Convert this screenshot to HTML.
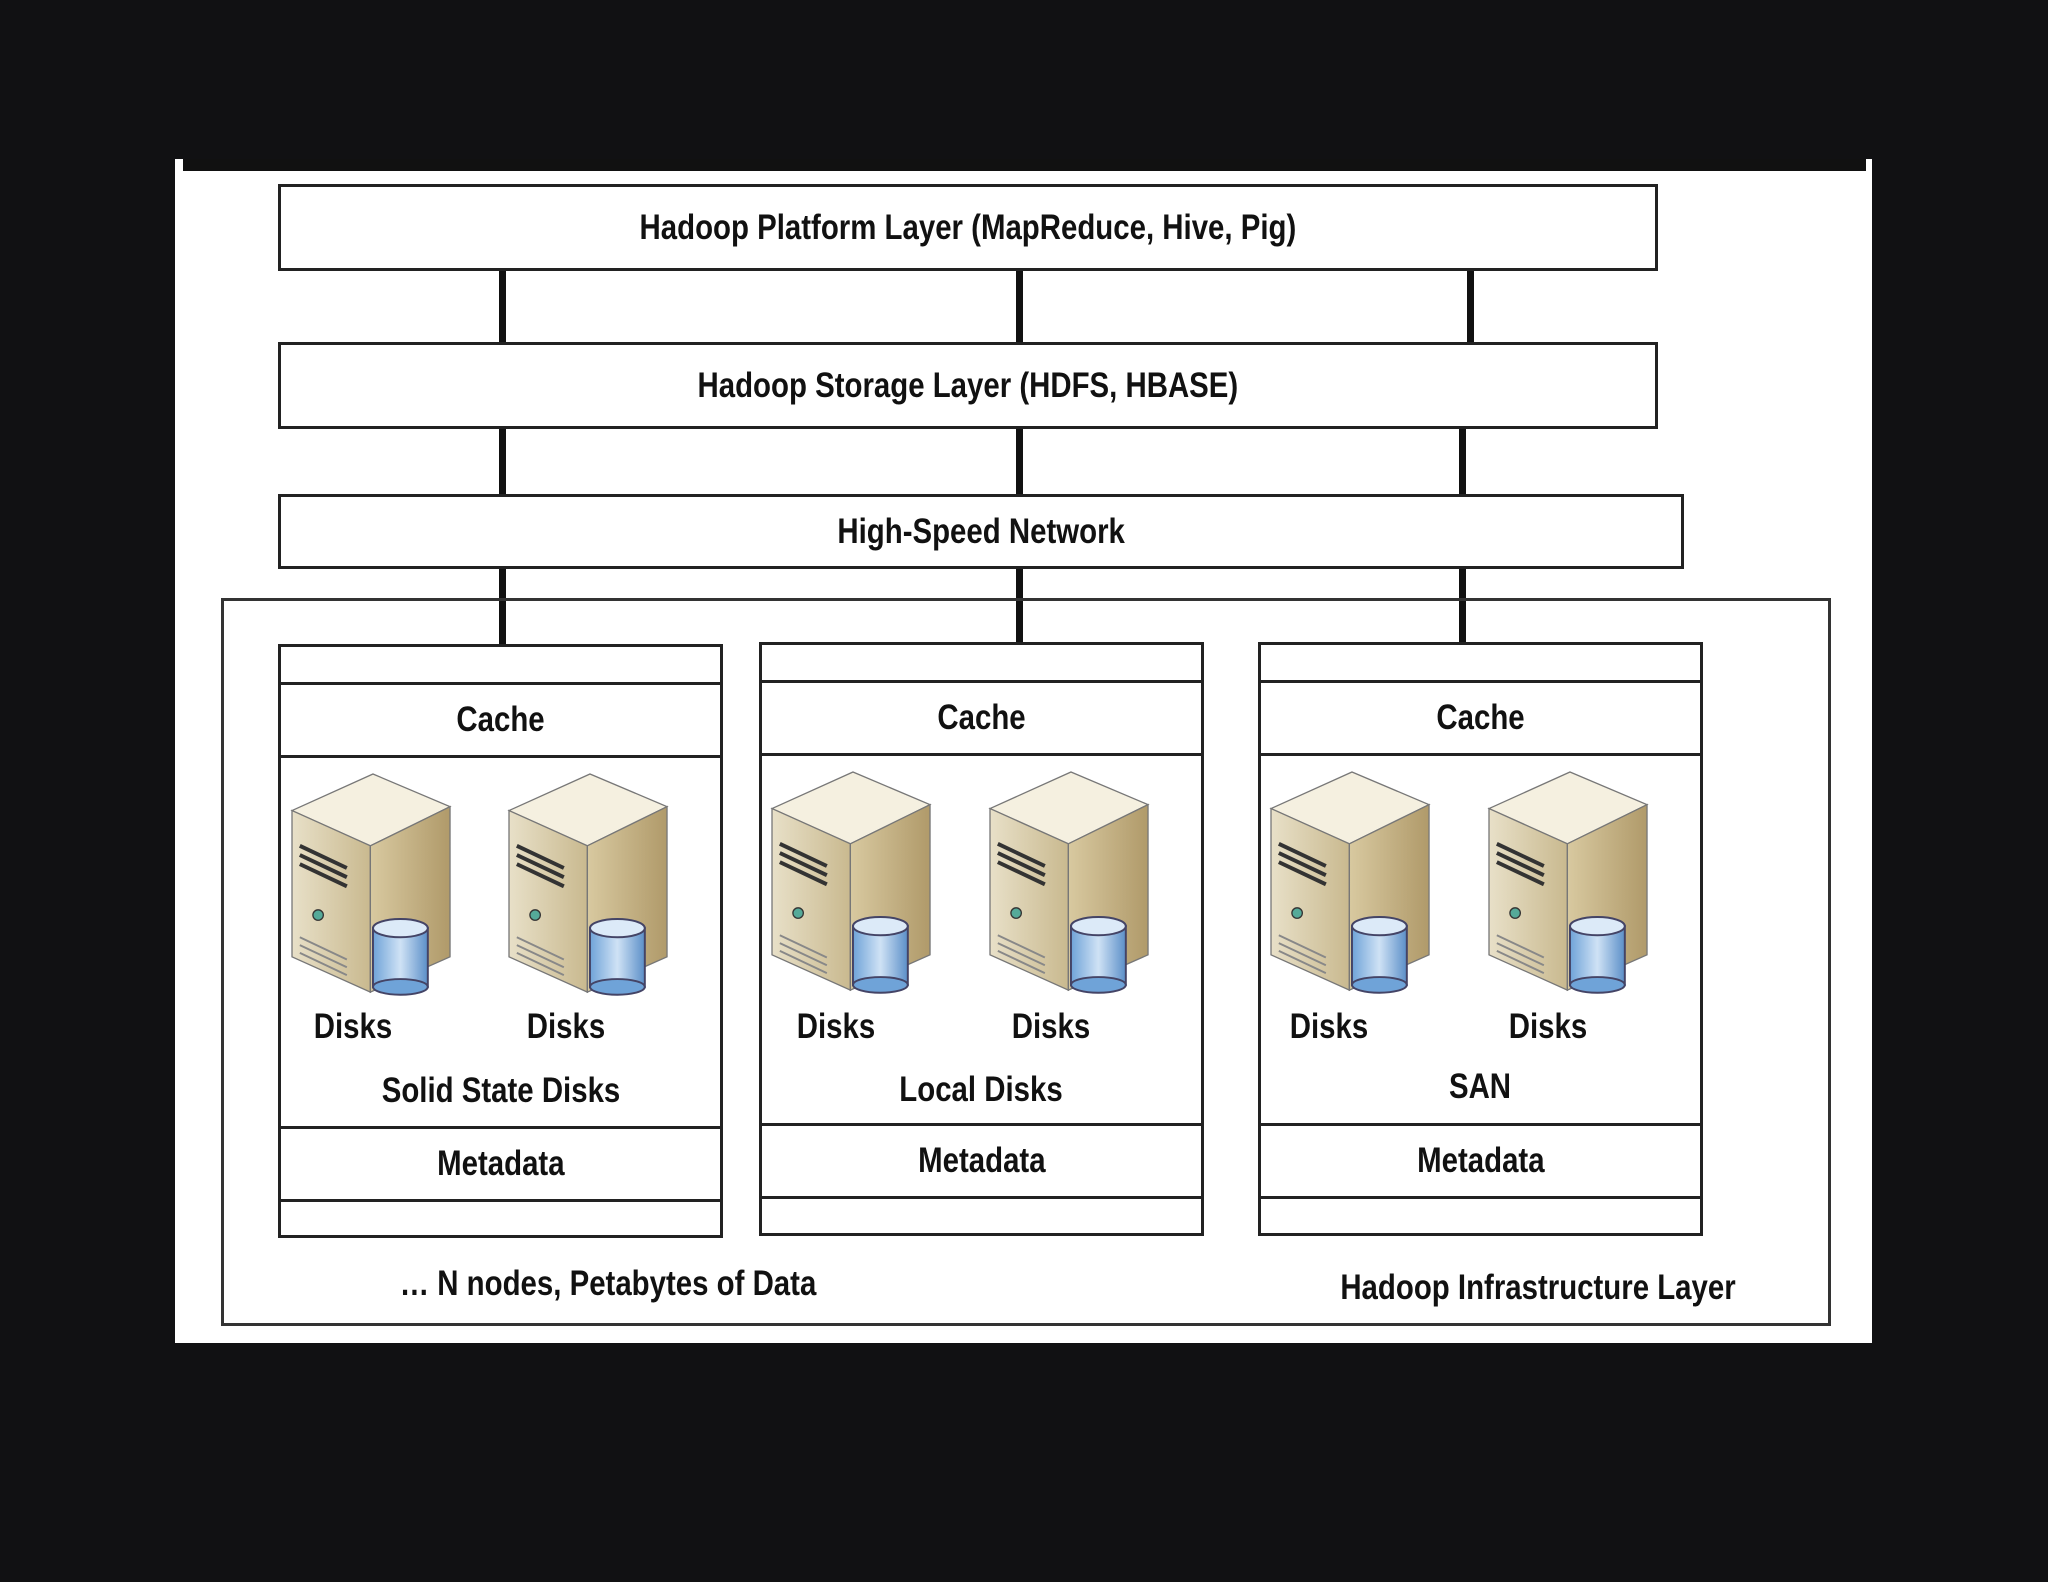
<!DOCTYPE html>
<html><head><meta charset="utf-8"><style>
html,body{margin:0;padding:0;background:#111113;}
body{width:2048px;height:1582px;position:relative;overflow:hidden;font-family:"Liberation Sans",sans-serif;font-weight:bold;color:#111;}
.a{position:absolute;box-sizing:border-box;}
.box{border:3px solid #222;background:#fff;display:flex;align-items:center;justify-content:center;font-size:35px;}
.box span{display:inline-block;transform:scaleX(0.84);white-space:nowrap;}
.t{position:absolute;font-size:35px;white-space:nowrap;transform:translateX(-50%) scaleX(0.84);}
.v{position:absolute;background:#111;width:7px;}
</style></head><body>
<div class="a" style="left:175px;top:159px;width:1697px;height:1184px;background:#fff"></div>
<div class="a" style="left:183px;top:159px;width:1683px;height:12px;background:#111"></div>

<div class="v" style="left:499px;top:268px;height:76px"></div>
<div class="v" style="left:1016px;top:268px;height:76px"></div>
<div class="v" style="left:1467px;top:268px;height:76px"></div>
<div class="v" style="left:499px;top:426px;height:70px"></div>
<div class="v" style="left:1016px;top:426px;height:70px"></div>
<div class="v" style="left:1459px;top:426px;height:70px"></div>
<div class="v" style="left:499px;top:566px;height:80px"></div>
<div class="v" style="left:1016px;top:566px;height:80px"></div>
<div class="v" style="left:1459px;top:566px;height:80px"></div>

<div class="a box" style="left:278px;top:184px;width:1380px;height:87px"><span>Hadoop Platform Layer (MapReduce, Hive, Pig)</span></div>
<div class="a box" style="left:278px;top:342px;width:1380px;height:87px"><span>Hadoop Storage Layer (HDFS, HBASE)</span></div>
<div class="a box" style="left:278px;top:494px;width:1406px;height:75px"><span>High-Speed Network</span></div>
<div class="a" style="left:221px;top:598px;width:1610px;height:728px;border:3px solid #333"></div>

<div class="a" style="left:278px;top:644px;width:445px;height:594px;border:3px solid #222;background:#fff"></div>
<div class="a box" style="left:278px;top:682px;width:445px;height:76px"><span>Cache</span></div>
<div class="a box" style="left:278px;top:1126px;width:445px;height:76px"><span>Metadata</span></div>
<div class="a" style="left:759px;top:642px;width:445px;height:594px;border:3px solid #222;background:#fff"></div>
<div class="a box" style="left:759px;top:680px;width:445px;height:76px"><span>Cache</span></div>
<div class="a box" style="left:759px;top:1123px;width:445px;height:76px"><span>Metadata</span></div>
<div class="a" style="left:1258px;top:642px;width:445px;height:594px;border:3px solid #222;background:#fff"></div>
<div class="a box" style="left:1258px;top:680px;width:445px;height:76px"><span>Cache</span></div>
<div class="a box" style="left:1258px;top:1123px;width:445px;height:76px"><span>Metadata</span></div>

<svg class="a" style="left:0;top:0" width="2048" height="1582">
<defs>
<linearGradient id="gl" x1="0" x2="1"><stop offset="0" stop-color="#e8e0c8"/><stop offset="1" stop-color="#c9b98f"/></linearGradient>
<linearGradient id="gr" x1="0" x2="1"><stop offset="0" stop-color="#d8c9a0"/><stop offset="1" stop-color="#b09a6a"/></linearGradient>
<linearGradient id="gc" x1="0" x2="1"><stop offset="0" stop-color="#6fa3d8"/><stop offset="0.5" stop-color="#cfe2f5"/><stop offset="1" stop-color="#5b8fc8"/></linearGradient>
<g id="srv">
<polygon points="0,28 62,0 121,25 60,55" fill="#f5f0e0" stroke="#777" stroke-width="1"/>
<polygon points="0,28 60,55 60,167 0,140" fill="url(#gl)" stroke="#777" stroke-width="1"/>
<polygon points="60,55 121,25 121,140 60,167" fill="url(#gr)" stroke="#777" stroke-width="1"/>
<path d="M6,55 L42,72 M6,62 L42,79 M6,69 L42,86" stroke="#333" stroke-width="3"/>
<circle cx="20" cy="108" r="4" fill="#5a9" stroke="#333"/>
<path d="M6,125 L42,142 M6,131 L42,148 M6,137 L42,154" stroke="#888" stroke-width="1.5"/>
<rect x="62" y="118" width="42" height="45" fill="url(#gc)" stroke="#446" stroke-width="1.5"/>
<ellipse cx="83" cy="163" rx="21" ry="6" fill="#6fa3d8" stroke="#446" stroke-width="1.5"/>
<ellipse cx="83" cy="118" rx="21" ry="7" fill="#dceaf8" stroke="#446" stroke-width="1.5"/>
</g>
</defs>
<g transform="translate(292,774) scale(1.306)"><use href="#srv"/></g>
<g transform="translate(509,774) scale(1.306)"><use href="#srv"/></g>
<g transform="translate(772,772) scale(1.306)"><use href="#srv"/></g>
<g transform="translate(990,772) scale(1.306)"><use href="#srv"/></g>
<g transform="translate(1271,772) scale(1.306)"><use href="#srv"/></g>
<g transform="translate(1489,772) scale(1.306)"><use href="#srv"/></g>
</svg>

<div class="t" style="left:353px;top:1007px">Disks</div>
<div class="t" style="left:566px;top:1007px">Disks</div>
<div class="t" style="left:501px;top:1071px">Solid State Disks</div>
<div class="t" style="left:836px;top:1007px">Disks</div>
<div class="t" style="left:1051px;top:1007px">Disks</div>
<div class="t" style="left:981px;top:1070px">Local Disks</div>
<div class="t" style="left:1329px;top:1007px">Disks</div>
<div class="t" style="left:1548px;top:1007px">Disks</div>
<div class="t" style="left:1480px;top:1067px">SAN</div>
<div class="t" style="left:608px;top:1264px">… N nodes, Petabytes of Data</div>
<div class="t" style="left:1538px;top:1268px">Hadoop Infrastructure Layer</div>
</body></html>
